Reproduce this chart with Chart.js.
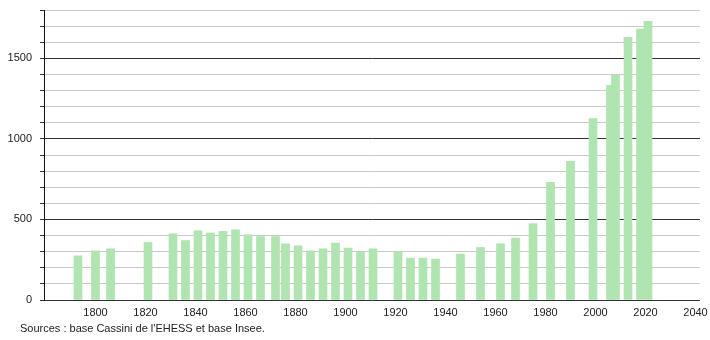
<!DOCTYPE html>
<html>
<head>
<meta charset="utf-8">
<script src="https://cdn.jsdelivr.net/npm/chart.js@4"></script>
<style>
  body { margin: 0; background: #fff; }
</style>
</head>
<body>
<canvas id="popChart" width="710" height="340"></canvas>
<script>
// Census years and population
const years = [1793, 1800, 1806, 1821, 1831, 1836, 1841, 1846, 1851, 1856, 1861, 1866, 1872, 1876,
  1881, 1886, 1891, 1896, 1901, 1906, 1911, 1921, 1926, 1931, 1936, 1946, 1954, 1962, 1968,
  1975, 1982, 1990, 1999, 2006, 2008, 2013, 2018, 2021];
const population = [274, 305, 318, 357, 411, 369, 430, 416, 426, 436, 405, 394, 394, 349,
  336, 305, 318, 353, 322, 297, 318, 301, 260, 260, 254, 285, 326, 349, 384,
  474, 731, 860, 1126, 1333, 1396, 1631, 1682, 1730];
const xTickYears = [1800, 1820, 1840, 1860, 1880, 1900, 1920, 1940, 1960, 1980, 2000, 2020, 2040];
const sourceText = "Sources : base Cassini de l'EHESS et base Insee.";

Chart.defaults.font.family = '"Liberation Sans", Arial, sans-serif';
Chart.defaults.font.size = 11;
Chart.defaults.color = '#222';

// Source line under the axis
const sourcePlugin = {
  id: 'source',
  afterDraw(chart) {
    const c = chart.ctx;
    c.save();
    c.font = '11px "Liberation Sans", Arial, sans-serif';
    c.fillStyle = '#222';
    c.textBaseline = 'alphabetic';
    c.fillText(sourceText, 20, 332);
    c.restore();
  }
};

const ctx = document.getElementById('popChart').getContext('2d');
new Chart(ctx, {
  type: 'bar',
  data: {
    datasets: [{
      data: years.map((y, i) => ({ x: y, y: population[i] })),
      backgroundColor: 'rgb(176,228,176)',
      borderWidth: 0,
      barThickness: 8
    }]
  },
  options: {
    responsive: false,
    animation: false,
    layout: { padding: { left: 0, right: 10, top: 10, bottom: 0 } },
    plugins: {
      legend: { display: false },
      tooltip: { enabled: false }
    },
    scales: {
      x: {
        type: 'linear',
        min: 1779.4,
        max: 2041.8,
        offset: false,
        afterBuildTicks: (scale) => {
          scale.ticks = xTickYears.map(v => ({ value: v }));
        },
        afterFit: (scale) => {
          scale.height = 40;
          scale.paddingLeft = 0;
          scale.paddingRight = 0;
        },
        grid: { display: false, drawTicks: false },
        border: { display: false },
        ticks: {
          padding: 6,
          maxRotation: 0,
          autoSkip: false,
          callback: (v) => String(v)
        }
      },
      y: {
        min: 0,
        max: 1800,
        afterFit: (scale) => {
          scale.width = 44;
          scale.paddingTop = 0;
          scale.paddingBottom = 0;
        },
        border: { display: true, color: '#111', width: 1 },
        grid: {
          color: (c) => (c.tick && c.tick.value % 500 === 0) ? '#333' : '#c8c8c8',
          tickColor: '#333',
          tickLength: 4,
          lineWidth: 1
        },
        ticks: {
          stepSize: 100,
          padding: 8,
          autoSkip: false,
          callback: (v) => (v % 500 === 0 ? String(v) : '')
        }
      }
    }
  },
  plugins: [sourcePlugin]
});
</script>
</body>
</html>
